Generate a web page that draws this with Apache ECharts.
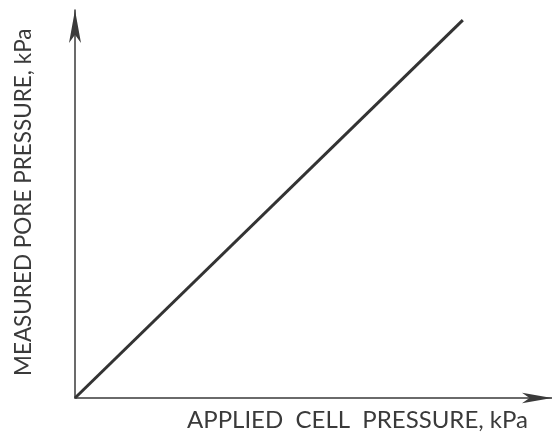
<!DOCTYPE html>
<html>
<head>
<meta charset="utf-8">
<script src="https://cdn.jsdelivr.net/npm/echarts@6/dist/echarts.min.js"></script>
<style>
html,body{margin:0;padding:0;background:#fff;}
#main{width:552px;height:436px;}
</style>
</head>
<body>
<div id="main"></div>
<script>
// 数据: 施加围压 vs 测得孔压 (无刻度, 只读相对位置)
var cellPressure=[0,81.3];
var porePressure=[0,97.4];
var xLabel="APPLIED  CELL  PRESSURE, kPa";
var yLabel="MEASURED PORE PRESSURE, kPa";

var myChart=echarts.init(document.getElementById('main'));
var points=[];
for(var i=0;i<cellPressure.length;i++){
	points.push([cellPressure[i],porePressure[i]]);
}
var option={
	backgroundColor:'#fff',
	animation:false,
	grid:{left:75,right:0,top:10,bottom:38},
	xAxis:{
		type:'value',min:0,max:100,
		axisLine:{show:true,symbol:['none','arrow'],symbolSize:[8,30],lineStyle:{color:'#3a3a3a',width:1.5}},
		axisTick:{show:false},axisLabel:{show:false},splitLine:{show:false}
	},
	yAxis:{
		type:'value',min:0,max:100,
		axisLine:{show:true,symbol:['none','arrow'],symbolSize:[9,33],lineStyle:{color:'#3a3a3a',width:1.5}},
		axisTick:{show:false},axisLabel:{show:false},splitLine:{show:false}
	},
	graphic:[
		{type:'text',x:187,y:408,style:{text:xLabel,font:'24px Lato',fill:'#3a3a3a'}},
		{type:'text',x:12,y:376,rotation:Math.PI/2,style:{text:yLabel,font:'22.5px Lato',fill:'#3a3a3a'}}
	],
	series:[{
		type:'line',data:points,showSymbol:false,
		lineStyle:{color:'#333',width:3}
	}]
};
myChart.setOption(option);
</script>
</body>
</html>
